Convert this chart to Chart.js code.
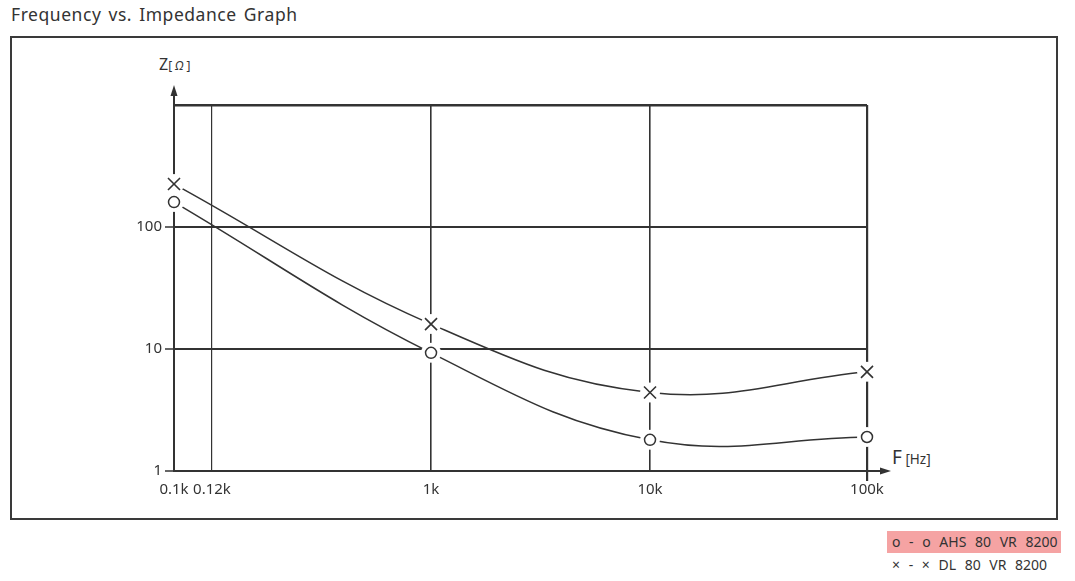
<!DOCTYPE html>
<html>
<head>
<meta charset="utf-8">
<script src="https://cdn.jsdelivr.net/npm/chart.js@4.4.1/dist/chart.umd.min.js"></script>
<style>
  body { margin: 0; background: #fff; font-family: 'Noto Sans', sans-serif; color: #333; }
  #page { position: relative; width: 1075px; height: 581px; overflow: hidden; }
  #title { position: absolute; left: 11px; top: 2px; font-size: 17.5px; letter-spacing: 0.55px; word-spacing: 2px; }
  #box { position: absolute; left: 10px; top: 36px; width: 1048px; height: 484px; box-sizing: border-box; border: 2px solid #3a3a3a; }
  #wrap { position: absolute; left: 0; top: 0; width: 1075px; height: 581px; }
  .lbl { position: absolute; white-space: nowrap; }
  .lbl small { font-size: 11px; }
  .leg { position: absolute; left: 887px; width: 174px; height: 22px; line-height: 22px; font-size: 14px; padding-left: 5px; box-sizing: border-box; word-spacing: 5px; }
</style>
</head>
<body>
<div id="page">
  <div id="title">Frequency vs. Impedance Graph</div>
  <div id="box"></div>
  <div class="lbl" style="left:159px;top:53px;font-size:16px;">Z<small style="font-size:12px;">[ <i>Ω</i> ]</small></div>
  <div class="lbl" style="left:892px;top:444px;font-size:19px;">F<small style="font-size:13.5px;"> [Hz]</small></div>
  <div class="leg" style="top:531px;background:#f5a3a3;">o - o AHS 80 VR 8200</div>
  <div class="leg" style="top:554px;">× - × DL 80 VR 8200</div>
  <div id="wrap"><canvas id="chart"></canvas></div>
</div>
<script>
// --- DATA ---
const freqs = [0.1, 1, 10, 100];              // kHz
const ahsZ = [160, 9.3, 1.8, 1.9];            // ohm, circles
const dlZ = [225, 16, 4.4, 6.5];              // ohm, crosses
const xTicks = [0.1, 0.12, 1, 10, 100];
const xTickLabels = ['0.1k', '0.12k', '1k', '10k', '100k'];
const yTicks = [1, 10, 100, 1000];
const yTickLabels = ['1', '10', '100', ''];

const INK = '#333';

// The drawn frequency axis is not a true log axis: each tick sits at its own
// place and values are log-interpolated between neighbouring ticks.
const xTickFrac = [0, 0.0548, 0.3709, 0.6869, 1];

class PiecewiseLogScale extends Chart.LogarithmicScale {
  getPixelForValue(value) {
    const lv = Math.log10(value);
    let i = 0;
    while (i < xTicks.length - 2 && value > xTicks[i + 1]) i++;
    const a = Math.log10(xTicks[i]), b = Math.log10(xTicks[i + 1]);
    const t = (lv - a) / (b - a);
    const frac = xTickFrac[i] + t * (xTickFrac[i + 1] - xTickFrac[i]);
    return this.getPixelForDecimal(frac);
  }
}
PiecewiseLogScale.id = 'pwlog';
Chart.register(PiecewiseLogScale);

Chart.defaults.font.family = "'Noto Sans', sans-serif";
Chart.defaults.color = INK;

function pts(ys) { return freqs.map((f, i) => ({ x: f, y: ys[i] })); }

const arrows = {
  id: 'arrows',
  beforeDatasetsDraw(chart) {
    const { ctx, chartArea: a } = chart;
    ctx.save();
    ctx.strokeStyle = INK;
    ctx.fillStyle = INK;
    ctx.lineWidth = 2;
    ctx.beginPath();
    ctx.moveTo(a.left, a.top);
    ctx.lineTo(a.left, a.top - 12);
    ctx.moveTo(a.right, a.bottom);
    ctx.lineTo(a.right + 16, a.bottom);
    ctx.stroke();
    ctx.beginPath();
    ctx.moveTo(a.left, a.top - 20);
    ctx.lineTo(a.left - 3.5, a.top - 9);
    ctx.lineTo(a.left + 3.5, a.top - 9);
    ctx.closePath();
    ctx.fill();
    ctx.beginPath();
    ctx.moveTo(a.right + 24, a.bottom);
    ctx.lineTo(a.right + 13, a.bottom - 3.5);
    ctx.lineTo(a.right + 13, a.bottom + 3.5);
    ctx.closePath();
    ctx.fill();
    ctx.restore();
  }
};

const halo = { showLine: false, pointRadius: 10, pointBackgroundColor: '#fff', pointBorderWidth: 0, pointBorderColor: '#fff', clip: false };

new Chart(document.getElementById('chart'), {
  type: 'line',
  data: {
    datasets: [
      { label: 'AHS 80 VR 8200', data: pts(ahsZ), showLine: false, pointStyle: 'circle', pointRadius: 5.5,
        pointBorderWidth: 1.5, pointBorderColor: INK, pointBackgroundColor: '#fff', clip: false },
      { label: 'DL 80 VR 8200', data: pts(dlZ), showLine: false, pointStyle: 'crossRot', pointRadius: 8.5,
        pointBorderWidth: 1.6, pointBorderColor: INK, clip: false },
      Object.assign({ label: 'h1', data: pts(ahsZ) }, halo),
      Object.assign({ label: 'h2', data: pts(dlZ) }, halo),
      { label: 'l1', data: pts(ahsZ), borderColor: INK, borderWidth: 1.5, pointRadius: 0, tension: 0.4, fill: false, clip: false },
      { label: 'l2', data: pts(dlZ), borderColor: INK, borderWidth: 1.5, pointRadius: 0, tension: 0.4, fill: false, clip: false }
    ]
  },
  options: {
    responsive: true,
    maintainAspectRatio: false,
    animation: false,
    events: [],
    layout: { padding: { top: 105, right: 208, left: 0, bottom: 0 } },
    plugins: { legend: { display: false }, tooltip: { enabled: false } },
    scales: {
      x: {
        type: 'pwlog', min: 0.1, max: 100,
        afterBuildTicks: s => { s.ticks = xTicks.map(v => ({ value: v })); },
        afterFit: s => { s.height = 110; },
        ticks: { autoSkip: false, maxRotation: 0, padding: 0, font: { size: 15 }, color: INK,
          callback: (v, i) => xTickLabels[i] },
        grid: {
          color: INK, tickLength: 10,
          lineWidth: c => (c.tick && c.tick.value === 0.12 ? 1.2 : c.tick && c.tick.value === 100 ? 2.2 : 1.6),
          tickColor: c => (c.tick && c.tick.value === 100 ? INK : 'rgba(0,0,0,0)')
        },
        border: { color: INK, width: 2 }
      },
      y: {
        type: 'logarithmic', min: 1, max: 1000,
        afterBuildTicks: s => { s.ticks = yTicks.map(v => ({ value: v })); },
        afterFit: s => { s.width = 174; },
        ticks: { autoSkip: false, padding: 3, font: { size: 15 }, color: INK,
          callback: (v, i) => yTickLabels[i] },
        grid: {
          color: INK, tickLength: 9,
          lineWidth: c => (c.tick && c.tick.value === 1000 ? 2.6 : 2),
          tickColor: c => (c.tick && c.tick.value === 1000 ? 'rgba(0,0,0,0)' : INK),
          tickWidth: 1.5
        },
        border: { color: INK, width: 2 }
      }
    }
  },
  plugins: [arrows]
});
</script>
</body>
</html>
